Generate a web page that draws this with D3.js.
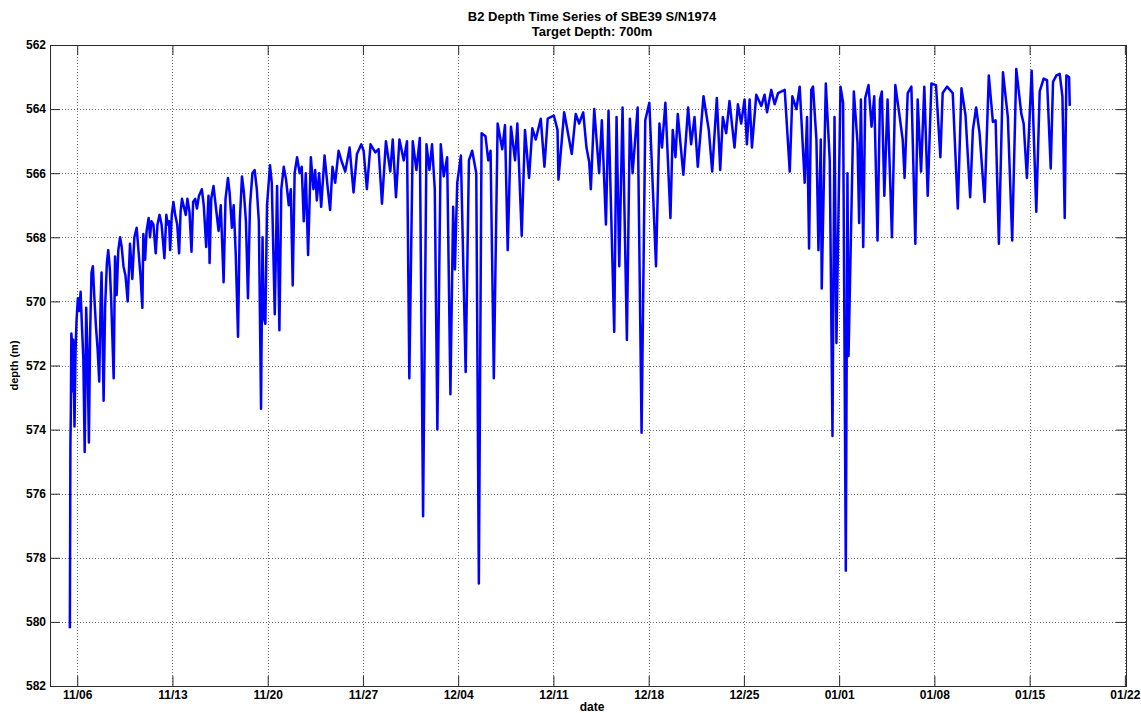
<!DOCTYPE html>
<html>
<head>
<meta charset="utf-8">
<script src="https://cdn.jsdelivr.net/npm/d3@7"></script>
<style>
  html, body { margin: 0; padding: 0; background: #fff; }
  svg text { font-family: Arial, "Liberation Sans", Helvetica, sans-serif; }
</style>
</head>
<body>
<svg id="chart" width="1141" height="713"></svg>
<script>
// ---------------- data ----------------
const titleLines = ["B2 Depth Time Series of SBE39 S/N1974", "Target Depth: 700m"];
const xLabel = "date";
const yLabel = "depth (m)";
const startDate = "2009-11-04T00:00:00Z";
const endDate = "2010-01-22T02:00:00Z";
const xTickDates = ["2009-11-06","2009-11-13","2009-11-20","2009-11-27","2009-12-04","2009-12-11",
                    "2009-12-18","2009-12-25","2010-01-01","2010-01-08","2010-01-15","2010-01-22"];
const yTicks = [562,564,566,568,570,572,574,576,578,580,582];
const yDomain = [562, 582];

// elapsed days since startDate
const days = [
1.46,1.50,1.53,1.57,1.62,1.66,1.71,1.80,1.88,1.95,2.05,2.15,2.25,2.35,2.45,2.55,2.66,2.75,2.86,2.95,
3.05,3.15,3.25,3.38,3.50,3.62,3.72,3.79,3.94,4.05,4.18,4.28,4.40,4.50,4.68,4.78,4.90,5.02,5.15,5.27,
5.40,5.55,5.71,5.88,6.05,6.20,6.37,6.52,6.65,6.79,6.86,6.99,7.10,7.25,7.35,7.45,7.60,7.77,7.90,8.05,
8.20,8.41,8.55,8.65,8.75,8.83,8.95,9.07,9.20,9.35,9.49,9.60,9.70,9.81,9.98,10.10,10.25,10.40,10.52,10.67,
10.80,10.95,11.16,11.30,11.48,11.65,11.73,11.85,12.02,12.15,12.39,12.55,12.76,12.90,13.08,13.20,13.37,13.50,13.65,13.82,
13.95,14.11,14.25,14.40,14.55,14.70,14.88,15.04,15.20,15.35,15.51,15.62,15.71,15.83,15.95,16.17,16.30,16.52,16.69,16.86,
17.00,17.18,17.35,17.55,17.70,17.84,17.98,18.16,18.35,18.50,18.65,18.80,18.97,
19.17,19.36,19.49,19.61,19.78,19.93,20.18,20.42,20.59,20.76,20.96,21.21,21.45,21.70,22.02,22.31,22.56,22.88,23.05,23.29,
23.56,23.91,24.15,24.40,24.69,25.01,25.19,25.43,25.68,26.00,26.24,26.41,26.66,26.93,27.18,27.42,27.67,27.89,28.08,28.28,
28.47,28.72,28.94,29.19,29.43,29.63,29.76,29.93,30.20,30.55,30.79,31.03,31.33,31.52,31.72,32.01,32.21,32.38,32.62,32.90,
33.24,33.44,33.64,33.88,34.18,34.35,34.67,34.91,35.21,35.45,35.70,36.07,36.34,36.58,37.03,37.30,
37.37,37.79,38.35,38.64,38.89,39.19,39.43,39.63,39.75,40.00,40.36,40.56,40.86,41.05,41.47,41.64,41.84,42.08,42.40,42.62,
42.82,43.19,43.48,43.75,44.05,44.54,44.79,44.98,45.23,45.60,45.77,45.97,46.14,46.55,46.90,47.12,47.37,47.61,48.03,48.42,
48.67,49.01,49.26,49.45,49.70,49.94,50.31,50.56,50.80,51.05,51.22,51.42,51.59,51.91,52.28,52.52,52.70,53.01,53.26,53.51,
54.00,54.37,54.56,54.86,55.10,55.47,55.64,55.79,
55.95,56.08,56.33,56.48,56.65,56.72,57.02,57.31,57.51,57.66,57.80,58.10,58.29,58.49,58.61,58.69,59.08,59.35,59.47,59.60,
59.77,59.92,60.16,60.38,60.58,60.82,61.00,61.14,61.32,61.56,61.88,62.13,62.42,62.67,62.81,63.04,63.31,63.60,63.77,64.02,
64.26,64.51,64.78,65.12,65.44,65.61,65.93,66.35,66.72,66.99,67.29,67.63,67.83,68.07,68.32,68.69,69.00,69.30,69.50,69.74,
70.04,70.40,70.72,71.02,71.39,71.56,71.80,72.15,72.49,72.74,73.03,73.28,73.55,73.72,73.97,74.21,74.41,74.58,74.70,74.90,
74.95
];

const depth = [
580.2,574.5,573.5,571.0,571.3,572.8,571.2,573.9,571.5,570.6,569.9,570.3,569.7,570.8,571.8,574.7,570.2,571.5,574.4,571.0,
569.1,568.9,569.8,570.8,571.5,572.5,570.0,569.1,573.1,570.2,568.8,568.4,569.0,570.0,572.4,568.6,569.8,568.4,568.0,568.3,
568.9,569.2,570.0,568.2,569.3,568.0,567.7,568.5,569.2,570.2,567.9,568.7,567.8,567.4,568.0,567.5,567.6,568.5,567.6,567.3,
567.6,568.65,567.3,567.6,567.5,568.4,567.3,566.9,567.3,567.6,568.5,567.2,566.8,567.0,567.3,566.8,567.2,568.45,566.9,566.8,
567.1,566.7,566.5,567.0,568.3,566.7,568.8,566.8,566.4,566.9,567.8,567.0,569.4,566.8,566.15,566.6,567.7,567.0,568.5,571.1,
567.5,566.1,566.6,567.5,569.9,567.0,566.0,565.9,566.5,567.5,573.35,568.0,570.5,570.7,567.0,565.75,566.3,570.4,566.4,570.9,
566.5,565.8,566.2,567.0,566.5,569.5,566.0,565.5,566.0,565.8,567.5,566.0,568.55,
565.5,566.5,565.9,566.85,566.0,567.05,565.45,566.5,567.15,565.8,566.3,565.3,565.65,565.95,565.2,566.6,565.4,565.1,565.3,566.5,
565.1,565.35,565.25,566.95,565.0,565.95,564.95,566.75,564.95,565.6,565.0,572.4,565.0,565.9,564.9,576.7,565.1,565.9,565.1,566.5,
574.0,565.1,566.1,565.5,572.9,567.05,569.0,566.3,565.45,572.2,565.6,565.3,566.0,578.8,564.75,564.85,565.6,565.3,572.4,564.45,
565.25,564.5,568.4,564.55,565.6,564.45,567.95,564.65,566.15,564.6,564.95,564.3,565.8,564.3,564.2,564.65,
566.2,564.1,565.4,564.15,564.45,564.1,565.2,565.65,566.5,564.0,566.0,564.35,567.6,564.05,570.95,564.25,568.9,563.95,571.2,564.3,
566.0,563.95,574.1,564.35,563.8,568.9,564.45,565.2,563.8,567.4,564.65,565.5,564.15,566.05,563.95,565.1,564.25,565.8,563.6,564.65,
565.95,563.65,565.9,564.25,564.75,563.75,565.2,563.85,564.45,563.7,565.1,563.7,565.2,563.55,563.9,563.55,564.1,563.4,563.85,563.5,
563.4,565.95,563.6,564.0,563.3,566.3,564.25,568.35,
563.4,563.3,564.95,568.4,564.95,569.6,563.2,565.6,574.2,564.25,571.3,563.3,563.8,578.4,566.0,571.7,563.45,565.05,567.55,563.7,
568.3,563.65,563.25,564.55,563.6,568.1,563.7,563.45,566.7,563.7,568.0,563.25,564.15,564.95,566.15,563.5,563.3,568.2,563.7,565.95,
563.3,566.7,563.2,563.25,565.5,563.5,563.3,563.5,567.1,563.35,564.2,566.75,564.65,563.95,564.75,566.9,562.95,564.4,564.35,568.2,
562.85,564.25,568.1,562.75,564.15,564.45,566.15,562.8,567.2,563.45,563.05,563.1,565.85,563.15,562.95,562.9,563.6,567.4,562.95,563.0,
563.9
];

// ---------------- layout ----------------
const W = 1141, H = 713;
const margin = { left: 50, right: 15, top: 45, bottom: 27 };
const pw = W - margin.left - margin.right;
const ph = H - margin.top - margin.bottom;

const svg = d3.select("#chart");
const t0 = new Date(startDate);
const DAY = 86400000;
const data = days.map((d, i) => ({ t: new Date(t0.getTime() + d * DAY), v: depth[i] }));

const x = d3.scaleUtc().domain([t0, new Date(endDate)]).range([margin.left, margin.left + pw]);
const y = d3.scaleLinear().domain(yDomain).range([margin.top, margin.top + ph]);

const xTickVals = xTickDates.map(s => new Date(s + "T00:00:00Z"));
const fmt = d3.utcFormat("%m/%d");

const g = svg.append("g");

// grid
const gridColor = "#6e6e6e";
g.append("g").selectAll("line").data(xTickVals).join("line")
  .attr("x1", d => Math.round(x(d)) + 0.5).attr("x2", d => Math.round(x(d)) + 0.5)
  .attr("y1", margin.top).attr("y2", margin.top + ph)
  .attr("stroke", gridColor).attr("stroke-width", 1).attr("stroke-dasharray", "1,2");
g.append("g").selectAll("line").data(yTicks).join("line")
  .attr("y1", d => Math.round(y(d)) + 0.5).attr("y2", d => Math.round(y(d)) + 0.5)
  .attr("x1", margin.left).attr("x2", margin.left + pw)
  .attr("stroke", gridColor).attr("stroke-width", 1).attr("stroke-dasharray", "1,2");

// data line
const line = d3.line().x(d => x(d.t)).y(d => y(d.v));
g.append("path").datum(data)
  .attr("d", line).attr("fill", "none")
  .attr("stroke", "#0000ff").attr("stroke-width", 2.5)
  .attr("stroke-linejoin", "round");

// axes (MATLAB style: inward ticks on all four sides)
const tickLen = 10;
const axisColor = "#2b2b2b";
const font = "bold 12px Arial, 'Liberation Sans', sans-serif";

const axL = d3.axisLeft(y).tickValues(yTicks).tickSizeInner(-tickLen).tickSizeOuter(0).tickPadding(4);
const axR = d3.axisRight(y).tickValues(yTicks).tickSizeInner(-tickLen).tickSizeOuter(0).tickFormat("");
const axB = d3.axisBottom(x).tickValues(xTickVals).tickFormat(fmt).tickSizeInner(-tickLen).tickSizeOuter(0).tickPadding(4);
const axT = d3.axisTop(x).tickValues(xTickVals).tickSizeInner(-tickLen).tickSizeOuter(0).tickFormat("");

function styleAxis(sel) {
  sel.selectAll("path").attr("stroke", axisColor);
  sel.selectAll("line").attr("stroke", axisColor);
  sel.selectAll("text").attr("fill", "#000").style("font", font);
}
svg.append("g").attr("transform", `translate(${margin.left},0)`).call(axL).call(styleAxis);
svg.append("g").attr("transform", `translate(${margin.left + pw},0)`).call(axR).call(styleAxis);
svg.append("g").attr("transform", `translate(0,${margin.top + ph})`).call(axB).call(styleAxis);
svg.append("g").attr("transform", `translate(0,${margin.top})`).call(axT).call(styleAxis);

// box
svg.append("rect").attr("x", margin.left + 0.5).attr("y", margin.top + 0.5)
  .attr("width", pw).attr("height", ph).attr("fill", "none").attr("stroke", axisColor);

// titles
const cx = margin.left + pw / 2;
const titleFont = "bold 13px Arial, 'Liberation Sans', sans-serif";
svg.append("text").attr("x", cx + 4).attr("y", 21).attr("text-anchor", "middle")
  .style("font", titleFont).text(titleLines[0]);
svg.append("text").attr("x", cx + 4).attr("y", 36).attr("text-anchor", "middle")
  .style("font", titleFont).text(titleLines[1]);

svg.append("text").attr("x", cx + 4).attr("y", 711).attr("text-anchor", "middle")
  .style("font", "bold 12px Arial, 'Liberation Sans', sans-serif").text(xLabel);

svg.append("text").attr("transform", `translate(18,${margin.top + ph / 2}) rotate(-90)`)
  .attr("text-anchor", "middle")
  .style("font", "bold 11px Arial, 'Liberation Sans', sans-serif").text(yLabel);
</script>
</body>
</html>
